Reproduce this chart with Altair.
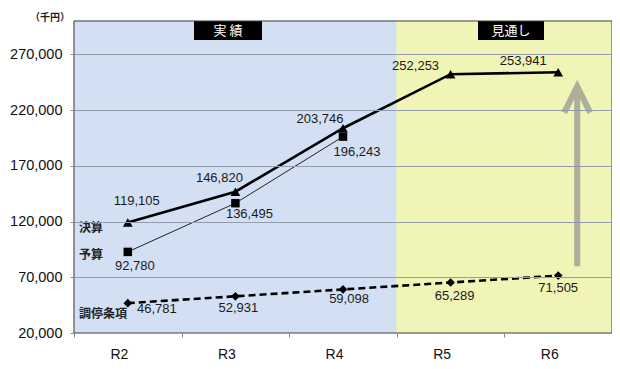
import altair as alt
import pandas as pd

# ---- data ----
categories = ["R2", "R3", "R4", "R5", "R6"]
periods = ["実績", "実績", "実績", "見通し", "見通し"]
kessan = [119105, 146820, 203746, 252253, 253941]      # 決算
yosan = [92780, 136495, 196243]                          # 予算 (R2-R4)
chotei = [46781, 52931, 59098, 65289, 71505]            # 調停条項
y_ticks = [20000, 70000, 120000, 170000, 220000, 270000]
y_domain = [20000, 300000]
series_names = ["決算", "予算", "調停条項"]
arrow_from, arrow_to, arrow_head = 80000, 238000, 229500

# ---- label offsets (style) ----
kessan_dx = [9, -16, -23, -35, -35]
kessan_dy = [-22, -14, -9, -8, -11]
yosan_dx = [7, 14, 14]
yosan_dy = [14, 11, 15]
chotei_dx = [29, 3, 6, 4, 0]
chotei_dy = [6, 12, 10, 13, 12]
name_dy = [5, 3, 11]

W, H = 538, 312
PAD_T = 13
BLUE, YELLOW = "#d3dff3", "#f0f4b6"
NUM_FONT = "Liberation Sans"
JP_FONT = "Noto Sans CJK JP"

xscale = alt.Scale(domain=categories, paddingInner=0, paddingOuter=0)
yscale = alt.Scale(domain=y_domain, nice=False, zero=False)

X = alt.X("cat:O", scale=xscale, sort=categories,
          axis=alt.Axis(title=None, labelFontSize=14, labelFont=NUM_FONT,
                        labelColor="#111", labelAngle=0, tickBand="extent",
                        tickSize=4, tickColor="#888", labelPadding=17,
                        domain=False, grid=False))
Y = alt.Y("val:Q", scale=yscale,
          axis=alt.Axis(title=None, values=y_ticks, format=",d",
                        labelFontSize=14.5, labelFont=NUM_FONT, labelColor="#111",
                        labelPadding=8, tickSize=4, tickColor="#888",
                        gridColor="#939cab", gridWidth=1, domain=False, zindex=1))

bg_df = pd.DataFrame({"cat": categories, "period": periods})
period_scale = alt.Scale(domain=["実績", "見通し"], range=[BLUE, YELLOW])
bg = alt.Chart(bg_df).mark_rect(strokeWidth=1).encode(
    x=alt.X("cat:O", scale=xscale, sort=categories),
    y=alt.value(0), y2=alt.value(H),
    fill=alt.Fill("period:N", scale=period_scale, legend=None),
    stroke=alt.Stroke("period:N", scale=period_scale, legend=None),
)

k_df = pd.DataFrame({"cat": categories, "val": kessan})
y_df = pd.DataFrame({"cat": categories[:3], "val": yosan})
c_df = pd.DataFrame({"cat": categories, "val": chotei})

k_line = alt.Chart(k_df).mark_line(color="black", strokeWidth=2.6).encode(x=X, y=Y)
k_pts = alt.Chart(k_df).mark_point(shape="triangle-up", filled=True, color="black", size=95, opacity=1).encode(x=X, y=Y)
y_line = alt.Chart(y_df).mark_line(color="#222", strokeWidth=1).encode(x=X, y=Y)
y_pts = alt.Chart(y_df).mark_point(shape="square", filled=True, color="black", size=72, opacity=1).encode(x=X, y=Y)
c_line = alt.Chart(c_df).mark_line(color="black", strokeWidth=2.6, strokeDash=[7, 4]).encode(x=X, y=Y)
c_pts = alt.Chart(c_df).mark_point(shape="diamond", filled=True, color="black", size=75, opacity=1).encode(x=X, y=Y)

# arrow
arr_df = pd.DataFrame({"cat": ["R6"], "val": [arrow_from], "val2": [arrow_to], "head": [arrow_head]})
arrow_shaft = alt.Chart(arr_df).mark_rule(color="#aeae9c", strokeWidth=6, xOffset=19, strokeCap="butt").encode(
    x=X, y=Y, y2="val2:Q")
arrow_tip = alt.Chart(arr_df).mark_point(shape="M-1,1L0,-1L1,1", filled=False, color="#aeae9c",
                                         strokeWidth=6, size=676, xOffset=19, opacity=1).encode(
    x=X, y=alt.Y("head:Q", scale=yscale))

# value labels
label_layers = []
for vals, dxs, dys, cats in [(kessan, kessan_dx, kessan_dy, categories),
                             (yosan, yosan_dx, yosan_dy, categories[:3]),
                             (chotei, chotei_dx, chotei_dy, categories)]:
    for c, v, dx, dy in zip(cats, vals, dxs, dys):
        d = pd.DataFrame({"cat": [c], "val": [v], "txt": [f"{v:,}"]})
        label_layers.append(
            alt.Chart(d).mark_text(fontSize=13, font=NUM_FONT, color="#1a1a1a",
                                   dx=dx, dy=dy, baseline="middle", align="center")
            .encode(x=X, y=Y, text="txt:N"))

# series names at the left
name_layers = []
for name, v, dy in zip(series_names, [kessan[0], yosan[0], chotei[0]], name_dy):
    d = pd.DataFrame({"val": [v], "txt": [name]})
    name_layers.append(
        alt.Chart(d).mark_text(fontSize=12, font=JP_FONT, fontWeight="bold", color="#222",
                               align="left", baseline="middle", dy=dy)
        .encode(x=alt.value(5), y=Y, text="txt:N"))

# period header boxes
hdr_df = pd.DataFrame({"txt": ["実 績", "見通し"], "x0": [120, 404], "x1": [188, 470]})
hdr_rects = []
for _, r in hdr_df.iterrows():
    d = pd.DataFrame({"txt": [r["txt"]]})
    hdr_rects.append(alt.Chart(d).mark_rect(color="black").encode(
        x=alt.value(r["x0"]), x2=alt.value(r["x1"]), y=alt.value(0), y2=alt.value(19)))
    hdr_rects.append(alt.Chart(d).mark_text(color="white", fontSize=13, font=JP_FONT,
                                            baseline="middle", align="center").encode(
        x=alt.value((r["x0"] + r["x1"]) / 2), y=alt.value(10), text="txt:N"))

unit_df = pd.DataFrame({"txt": ["（千円）"]})
unit = alt.Chart(unit_df).mark_text(fontSize=10, font=JP_FONT, fontWeight="bold", color="#222",
                                    align="center", baseline="middle").encode(
    x=alt.value(-24), y=alt.value(-3), text="txt:N")

border = alt.Chart(unit_df).mark_rect(filled=False, stroke="#404040", strokeWidth=1).encode(
    x=alt.value(0), x2=alt.value(W), y=alt.value(0), y2=alt.value(H))

chart = alt.layer(
    bg, y_line, k_line, c_line, arrow_shaft, arrow_tip, y_pts, k_pts, c_pts,
    *label_layers, *name_layers, *hdr_rects, unit, border
).properties(
    width=W, height=H,
    autosize=alt.AutoSizeParams(type="none"),
    padding={"left": 66, "top": PAD_T, "right": 0, "bottom": 28},
).configure_view(stroke=None)

chart.save("out.html", embed_options={"renderer": "svg", "actions": False})
